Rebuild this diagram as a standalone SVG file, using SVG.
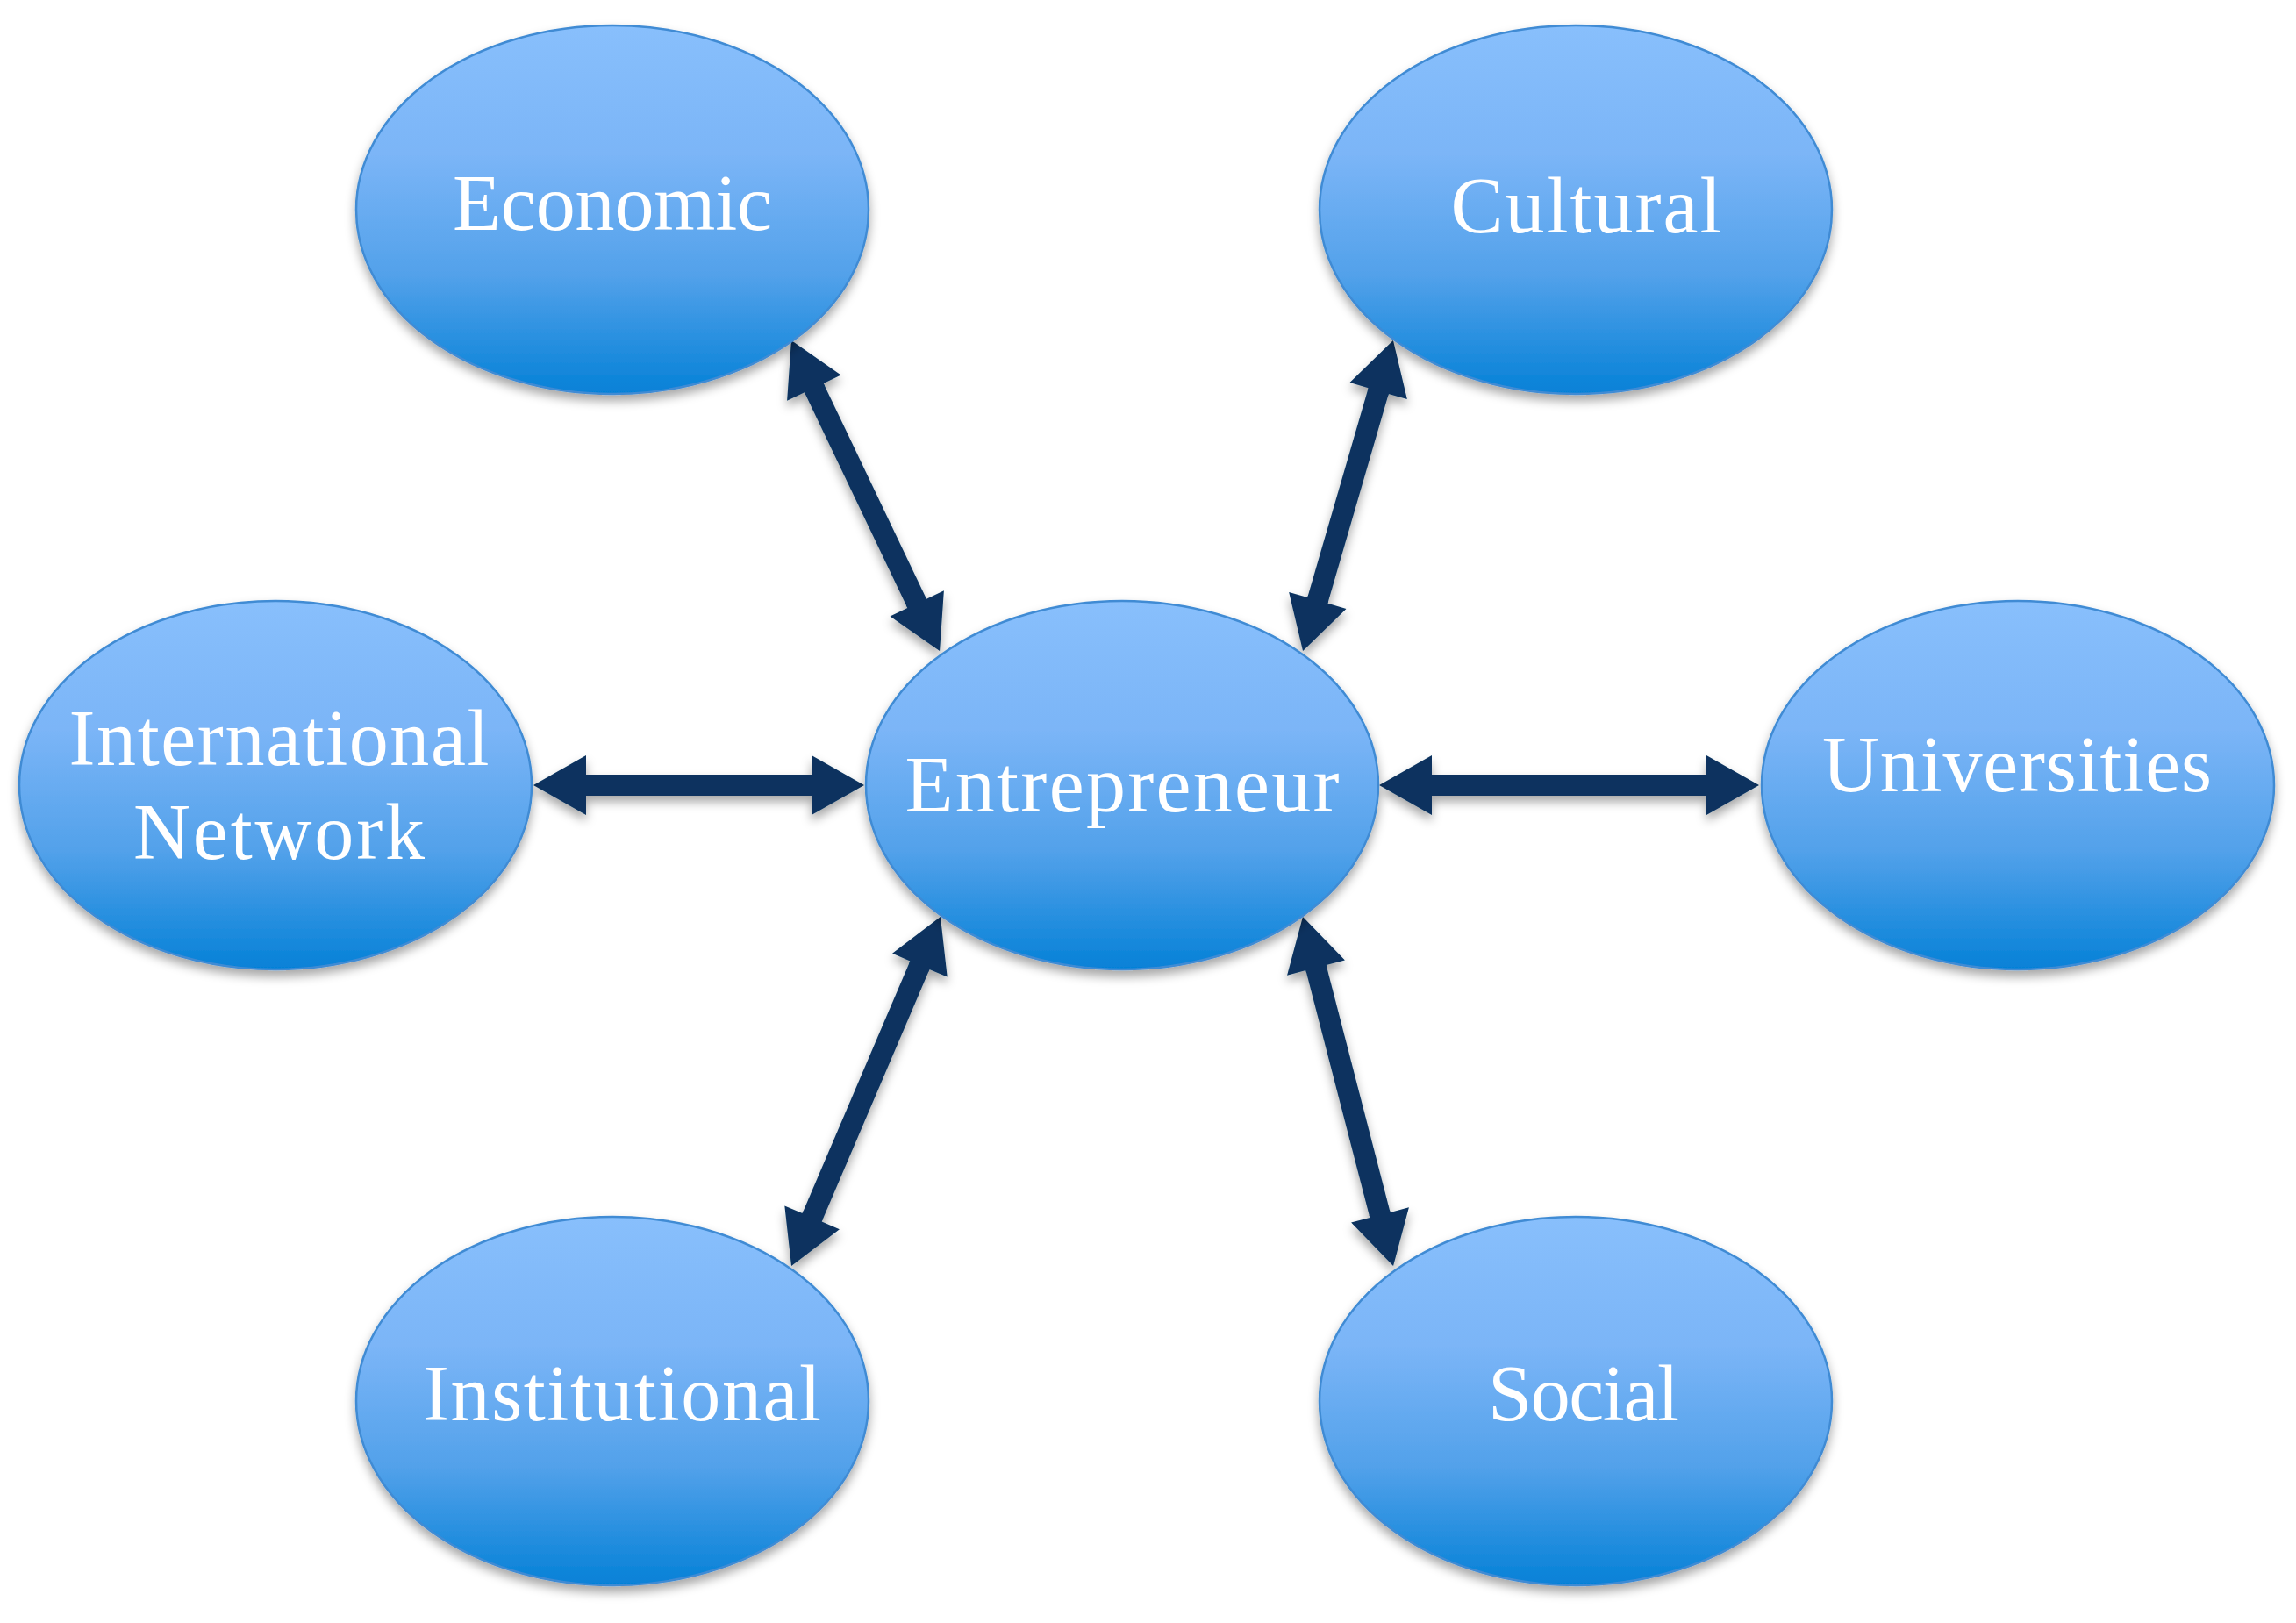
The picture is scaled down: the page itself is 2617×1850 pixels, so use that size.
<svg xmlns="http://www.w3.org/2000/svg" width="2617" height="1850" viewBox="0 0 2617 1850">
  <style>
    .node ellipse { fill: url(#blueGrad); stroke: #3f8bd4; stroke-width: 2.5; filter: url(#shadow); }
    .node text { font-family: "Liberation Serif", "DejaVu Serif", serif; font-size: 90px; fill: #ffffff; text-anchor: middle; }
    .conn line { stroke: #08335f; stroke-width: 24; marker-start: url(#head); marker-end: url(#head); }
  </style>
  <defs>
    <linearGradient id="blueGrad" x1="0" y1="0" x2="0" y2="1">
      <stop offset="0" stop-color="#88bffc"/>
      <stop offset="0.35" stop-color="#7bb5f7"/>
      <stop offset="0.68" stop-color="#52a1ea"/>
      <stop offset="1" stop-color="#0581d7"/>
    </linearGradient>
    <filter id="shadow" x="-20%" y="-20%" width="140%" height="150%">
      <feDropShadow dx="0" dy="7" stdDeviation="6" flood-color="#000000" flood-opacity="0.35"/>
    </filter>
    <marker id="head" markerUnits="userSpaceOnUse" markerWidth="68" markerHeight="68" refX="0" refY="34" orient="auto-start-reverse" overflow="visible">
      <path d="M-3,22 H0 V0 L60,34 L0,68 V46 H-3 Z" fill="#08335f"/>
    </marker>
  </defs>
  <rect width="2617" height="1850" fill="#ffffff"/>

  <g id="connectors" class="conn" filter="url(#shadow)">
    <line x1="927.8" y1="442.1" x2="1045.2" y2="687.9"/>
    <line x1="1571.2" y1="445.6" x2="1501.8" y2="684.4"/>
    <line x1="668" y1="895" x2="925" y2="895"/>
    <line x1="1632" y1="895" x2="1945" y2="895"/>
    <line x1="1048.4" y1="1100.2" x2="925.6" y2="1387.8"/>
    <line x1="1500" y1="1103.1" x2="1573" y2="1384.9"/>
  </g>

  <g id="economic" class="node">
    <ellipse cx="698" cy="239" rx="292" ry="210"/>
    <text x="698" y="262" textLength="364">Economic</text>
  </g>
  <g id="cultural" class="node">
    <ellipse cx="1796" cy="239" rx="292" ry="210"/>
    <text x="1808" y="265" textLength="309">Cultural</text>
  </g>
  <g id="international-network" class="node">
    <ellipse cx="314" cy="895" rx="292" ry="210"/>
    <text x="318" y="872" textLength="479">International</text>
    <text x="318" y="979" textLength="332">Network</text>
  </g>
  <g id="entrepreneur" class="node">
    <ellipse cx="1279" cy="895" rx="292" ry="210"/>
    <text x="1279" y="925" textLength="495">Entrepreneur</text>
  </g>
  <g id="universities" class="node">
    <ellipse cx="2300" cy="895" rx="292" ry="210"/>
    <text x="2299" y="902" textLength="444">Universities</text>
  </g>
  <g id="institutional" class="node">
    <ellipse cx="698" cy="1597" rx="292" ry="210"/>
    <text x="709" y="1619" textLength="454">Institutional</text>
  </g>
  <g id="social" class="node">
    <ellipse cx="1796" cy="1597" rx="292" ry="210"/>
    <text x="1805" y="1619" textLength="218">Social</text>
  </g>
</svg>
